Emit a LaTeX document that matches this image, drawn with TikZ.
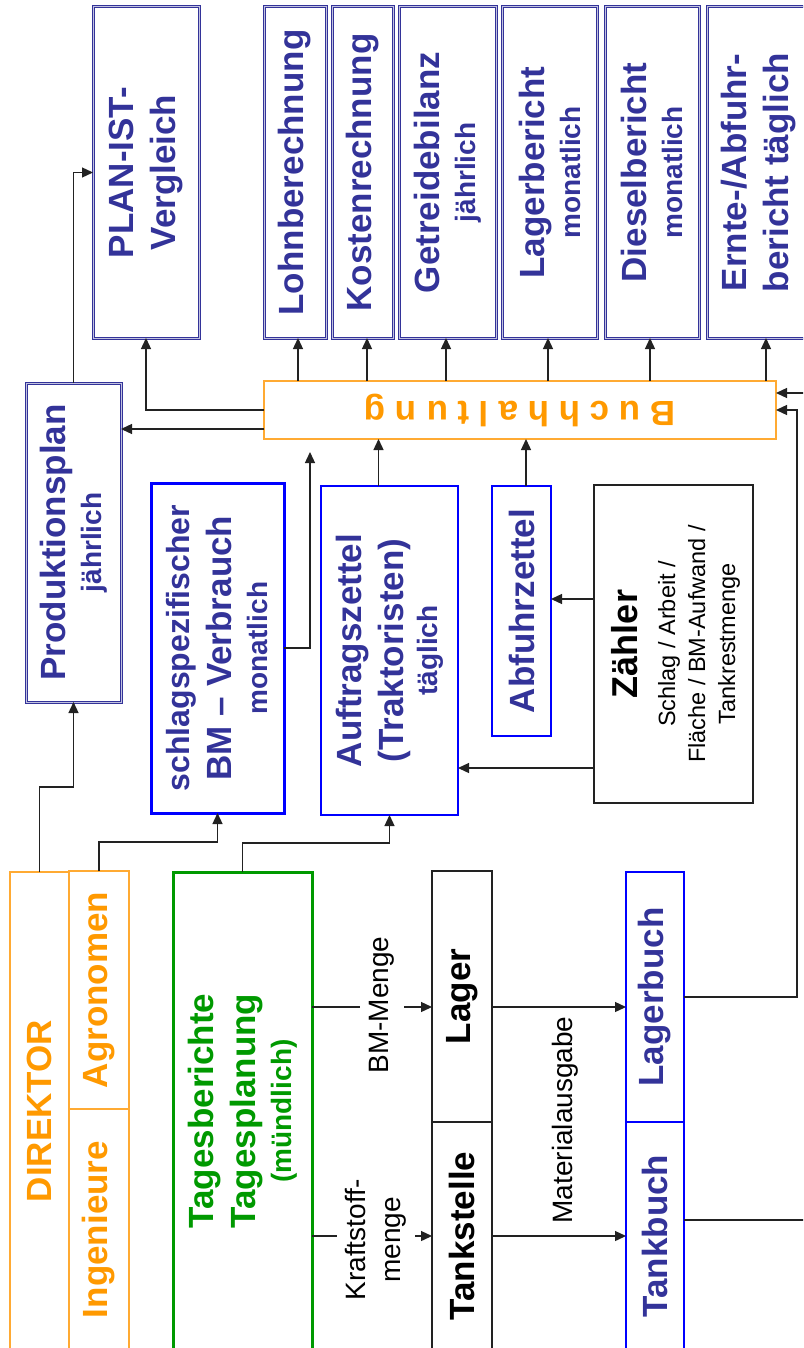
\documentclass[tikz,border=0pt]{standalone}
\usepackage{fontspec}
\setmainfont{Liberation Sans}
\usetikzlibrary{arrows.meta}

\definecolor{navy}{HTML}{333399}
\definecolor{pureblue}{HTML}{0000FF}
\definecolor{amber}{HTML}{FF9900}
\definecolor{amberline}{HTML}{FFAA33}
\definecolor{leaf}{HTML}{009900}
\definecolor{ink}{HTML}{222222}

\newcommand\bigtx{\fontsize{35}{42}\selectfont\bfseries}
\newcommand\midtx{\fontsize{32}{38}\selectfont\bfseries}
\newcommand\smalltx{\fontsize{28}{33}\selectfont\bfseries}
\newcommand\thintx{\fontsize{23.5}{30}\selectfont}
\newcommand\labeltx{\fontsize{28}{35}\selectfont}

% rectangle node from its corner coordinates: name, x1, y1, x2, y2, style
\newcommand\rectnode[6]{%
  \pgfmathsetmacro\rw{#4-#2}\pgfmathsetmacro\rh{#5-#3}%
  \node[#6, minimum width=\rw pt, minimum height=\rh pt] (#1) at ({(#2+#4)/2},{(#3+#5)/2}) {};}

\tikzset{
  box/.style={draw, rectangle, inner sep=0pt, outer sep=0pt},
  report/.style={box, draw=navy, line width=1pt, double=navy!30, double distance=1pt},
  ledger/.style={box, draw=pureblue, line width=1.3pt},
  heavyblue/.style={box, draw=pureblue, line width=3pt},
  orangebox/.style={box, draw=amberline, line width=1.5pt},
  greenbox/.style={box, draw=leaf, line width=3pt},
  blackbox/.style={box, draw=ink, line width=1.5pt},
  vtext/.style={rotate=90, align=center, inner sep=0pt},
  arr/.style={draw=ink, line width=1.3pt, -{Triangle[length=11pt,width=10pt]}},
  flowlabel/.style={rotate=90, align=center, fill=white, font=\labeltx, inner xsep=2pt},
}

\begin{document}
\begin{tikzpicture}[x=1pt,y=-1pt]
\useasboundingbox (0,0) rectangle (803,1348);
\clip (0,0) rectangle (803,1348);

% ---- reports (top row) ----
\rectnode{plan}{93}{7}{199}{338}{report}
\rectnode{lohn}{264}{7}{326}{338}{report}
\rectnode{kost}{332}{7}{393}{338}{report}
\rectnode{getr}{399}{7}{496}{338}{report}
\rectnode{lagb}{502}{7}{597}{338}{report}
\rectnode{dies}{605}{7}{699}{338}{report}
\rectnode{ernt}{707}{7}{811}{338}{report}

% ---- middle band ----
\rectnode{prod}{26}{383}{121}{702}{report}
\rectnode{buch}{264}{381}{776}{439}{orangebox}
\rectnode{bmv}{151}{483}{284}{813}{heavyblue}
\rectnode{auf}{321}{486}{458}{815}{ledger}
\rectnode{abf}{492}{486}{551}{736}{ledger}
\rectnode{zae}{594}{485}{753}{803}{blackbox}

% ---- bottom band ----
\rectnode{dir}{10}{872}{69}{1350}{orangebox}
\rectnode{agr}{69}{871}{129}{1109}{orangebox}
\rectnode{ing}{69}{1109}{129}{1350}{orangebox}
\rectnode{tag}{173}{872}{312}{1350}{greenbox}
\rectnode{lag}{432}{871}{492}{1122}{blackbox}
\rectnode{tst}{432}{1122}{492}{1350}{blackbox}
\rectnode{lbu}{626}{872}{684}{1122}{ledger}
\rectnode{tbu}{626}{1122}{684}{1350}{ledger}

% ---- texts ----
\node[vtext, text=navy, font=\bigtx] (plan-t) at (plan) {PLAN-IST-\\Vergleich};
\node[vtext, text=navy, font=\bigtx] (lohn-t) at (lohn) {Lohnberechnung};
\node[vtext, text=navy, font=\bigtx] (kost-t) at (kost) {Kostenrechnung};
\node[vtext, text=navy, font=\bigtx] (getr-t) at (getr) {Getreidebilanz\\[-6pt]\smalltx jährlich};
\node[vtext, text=navy, font=\bigtx] (lagb-t) at (lagb) {Lagerbericht\\[-6pt]\smalltx monatlich};
\node[vtext, text=navy, font=\bigtx] (dies-t) at (dies) {Dieselbericht\\[-6pt]\smalltx monatlich};
\node[vtext, text=navy, font=\bigtx] (ernt-t) at (ernt) {Ernte-/Abfuhr-\\bericht täglich};

\node[vtext, text=navy, font=\bigtx] (prod-t) at (prod) {Produktionsplan\\[-6pt]\smalltx jährlich};
\node[rotate=180, inner sep=0pt, text=amber, font=\bigtx] (buch-t) at (buch) {B u c h h a l t u n g};
\node[vtext, text=navy, font=\bigtx] (bmv-t) at (bmv) {\midtx schlagspezifischer\\BM -- Verbrauch\\[-6pt]\smalltx monatlich};
\node[vtext, text=navy, font=\bigtx] (auf-t) at (auf) {Auftragszettel\\(Traktoristen)\\[-8pt]\smalltx täglich};
\node[vtext, text=navy, font=\bigtx] (abf-t) at (abf) {Abfuhrzettel};
\node[vtext, text=black, font=\thintx] (zae-t) at ([xshift=2pt]zae.center) {{\fontsize{36}{42}\selectfont\bfseries Zähler}\\[8pt]Schlag / Arbeit /\\Fläche / BM-Aufwand /\\Tankrestmenge};

\node[vtext, text=amber, font=\bigtx] (dir-t) at (dir) {DIREKTOR};
\node[vtext, text=amber, font=\bigtx] (agr-t) at (agr) {Agronomen};
\node[vtext, text=amber, font=\bigtx] (ing-t) at (ing) {Ingenieure};
\node[vtext, text=leaf, font=\bigtx] (tag-t) at (tag) {Tagesberichte\\Tagesplanung\\[-6pt]\smalltx (mündlich)};
\node[vtext, text=black, font=\bigtx] (lag-t) at (lag) {Lager};
\node[vtext, text=black, font=\bigtx] (tst-t) at (tst) {Tankstelle};
\node[vtext, text=navy, font=\bigtx] (lbu-t) at (lbu) {Lagerbuch};
\node[vtext, text=navy, font=\bigtx] (tbu-t) at (tbu) {Tankbuch};

% ---- connectors: planning side ----
\draw[arr] (dir.north) -- ++(0,-85) -| (prod.south);
\draw[arr] (prod.north) |- (plan.west);
\draw[arr] (agr.north) -- ++(0,-29) -| (bmv.south);
\draw[arr] (tag.north) -- ++(0,-29) -| (auf.south);

% ---- connectors: material flow ----
\coordinate (bmIn) at ([yshift=-10.5pt]lag.west);
\coordinate (bmOut) at ([yshift=-10.5pt]lag.east);
\draw[arr] (tag.east |- bmIn) -- (bmIn);
\draw[arr] (tag.east |- tst.west) -- (tst.west);
\draw[arr] (bmOut) -- (lbu.west |- bmOut);
\draw[arr] (tst.east) -- (tbu.west);
\node[flowlabel, inner ysep=9pt] (bmm) at (382,1005) {BM-Menge};
\node[flowlabel, inner ysep=8pt] (ksm) at (376,1240) {Kraftstoff-\\menge};
\node[rotate=90, font=\labeltx, inner sep=0pt] (mat) at (565,1120) {Materialausgabe};

% ---- connectors: into bookkeeping ----
\coordinate (tbOut) at ([yshift=16pt]tbu.east);
\coordinate (tbIn) at ([yshift=17pt]buch.east);
\draw[arr] (lbu.east) -- ++(113,0) |- (buch.east);
\draw[arr] (tbOut) -- ++(140,0) |- (tbIn);
\coordinate (bmEnd) at (310,452);
\draw[arr] (bmv.east) -| (bmEnd);
\draw[arr] ([xshift=-11pt]auf.north) -- ([xshift=-11pt]auf.north |- buch.south);
\draw[arr] ([xshift=4.5pt]abf.north) -- ([xshift=4.5pt]abf.north |- buch.south);
\draw[arr] ([yshift=45pt]zae.west) -- ([yshift=45pt]zae.west -| abf.east);
\draw[arr] ([yshift=-124pt]zae.west) -- ([yshift=-124pt]zae.west -| auf.east);

% ---- connectors: out of bookkeeping ----
\coordinate (bpOut) at ([yshift=-19pt]buch.west);
\draw[arr] (buch.west) -| (plan.south);
\draw[arr] (bpOut) -- (prod.east |- bpOut);
\draw[arr] ([xshift=3pt]buch.north -| lohn.south) -- ([xshift=3pt]lohn.south);
\draw[arr] ([xshift=4.5pt]buch.north -| kost.south) -- ([xshift=4.5pt]kost.south);
\draw[arr] ([xshift=-1.5pt]buch.north -| getr.south) -- ([xshift=-1.5pt]getr.south);
\draw[arr] ([xshift=-1.5pt]buch.north -| lagb.south) -- ([xshift=-1.5pt]lagb.south);
\draw[arr] ([xshift=-2pt]buch.north -| dies.south) -- ([xshift=-2pt]dies.south);
\draw[arr] ([xshift=7pt]buch.north -| ernt.south) -- ([xshift=7pt]ernt.south);
\end{tikzpicture}
\end{document}
